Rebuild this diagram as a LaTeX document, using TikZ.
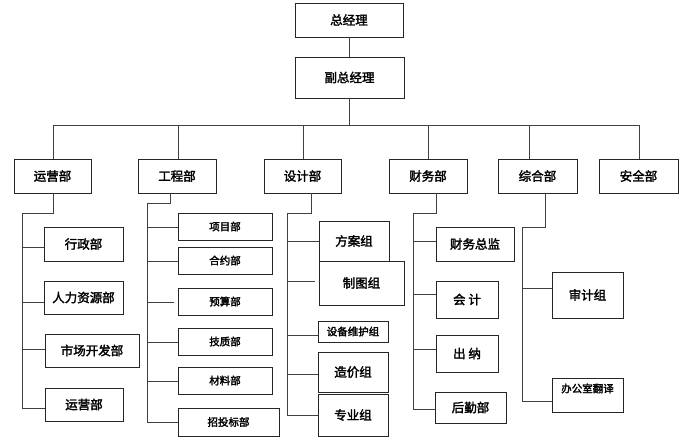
\documentclass[tikz,border=0pt]{standalone}
\usepackage{fontspec}
\newfontfamily\cjk{Noto Sans CJK SC}[FakeBold=2.2]
\tikzset{
  box/.style={draw=black!85, line width=0.9pt, inner sep=0pt, text=black,
    font=\cjk\fontsize{12.5}{14}\selectfont},
  sm/.style={font=\cjk\fontsize{10.5}{12}\selectfont},
  ln/.style={draw=black!75, line width=0.8pt},
}
\newcommand\bx[7][]{\node[box,#1,minimum width={(#4-#2)*1pt},minimum height={(#5-#3)*1pt}] (#6) at ({(#2+#4)/2},{(#3+#5)/2}) {#7};}
\begin{document}
\begin{tikzpicture}[x=1pt,y=-1pt]
\useasboundingbox[fill=white] (0,0) rectangle (700,446);
% top
\bx{295}{3}{403}{37}{zjl}{总经理}
\bx{295}{57}{404}{98}{fzjl}{副总经理}
% departments
\bx{14}{159}{91}{193}{d1}{运营部}
\bx{138}{159}{216}{193}{d2}{工程部}
\bx{264}{159}{341}{193}{d3}{设计部}
\bx{389}{159}{467}{193}{d4}{财务部}
\bx{498}{159}{577}{193}{d5}{综合部}
\bx{599}{159}{678}{193}{d6}{安全部}
% group 1
\bx{44}{227}{123}{261}{a1}{行政部}
\bx{44}{281}{123}{314}{a2}{人力资源部}
\bx{45}{334}{139}{367}{a3}{市场开发部}
\bx{45}{388}{123}{421}{a4}{运营部}
% group 2
\bx[sm]{178}{213}{272}{240}{b1}{项目部}
\bx[sm]{178}{247}{272}{274}{b2}{合约部}
\bx[sm]{178}{288}{272}{315}{b3}{预算部}
\bx[sm]{178}{328}{272}{355}{b4}{技质部}
\bx[sm]{178}{367}{272}{394}{b5}{材料部}
\bx[sm]{178}{408}{279}{436}{b6}{招投标部}
% group 3
\bx{319}{221}{389}{261}{c1}{方案组}
\bx{319}{261}{404}{305}{c2}{制图组}
\bx[sm]{318}{321}{388}{342}{c3}{设备维护组}
\bx{318}{352}{388}{392}{c4}{造价组}
\bx{318}{394}{388}{436}{c5}{专业组}
% group 4
\bx{436}{227}{514}{261}{e1}{财务总监}
\bx{436}{281}{498}{318}{e2}{会\ 计}
\bx{436}{335}{498}{372}{e3}{出\ 纳}
\bx{435}{392}{506}{423}{e4}{后勤部}
% group 5
\bx{552}{272}{623}{318}{f1}{审计组}
\bx[sm,text depth=14pt]{552}{378}{623}{412}{f2}{办公室翻译}

% top connectors
\coordinate (bus) at (349.5,125);
\draw[ln] (zjl.south -| bus) -- (fzjl.north -| bus);
\draw[ln] (fzjl.south -| bus) -- (bus);
\coordinate (p1) at (53,125);
\coordinate (p2) at (178,125);
\coordinate (p3) at (303,125);
\coordinate (p4) at (428,125);
\coordinate (p5) at (529,125);
\coordinate (p6) at (639,125);
\draw[ln] (d1.north -| p1) -- (p1) -- (p6) -- (d6.north -| p6);
\draw[ln] (p2) -- (d2.north -| p2);
\draw[ln] (p3) -- (d3.north -| p3);
\draw[ln] (p4) -- (d4.north -| p4);
\draw[ln] (p5) -- (d5.north -| p5);

% group 1 tree
\coordinate (t1) at (22,213); \coordinate (u1) at (22,408);
\draw[ln] (d1.south -| 53,0) -- (53,213) -- (t1) -- (u1);
\foreach \n/\y in {a1/247,a2/302,a3/349,a4/408}{
  \draw[ln] (22,\y) -- (\n.west |- 22,\y);
}
% group 2 tree
\coordinate (t2) at (147,203); \coordinate (u2) at (147,422);
\draw[ln] (d2.south -| 170,0) -- (170,203) -- (t2) -- (u2);
\foreach \n/\y in {b1/227,b2/261,b4/342,b5/381,b6/422}{
  \draw[ln] (147,\y) -- (\n.west |- 147,\y);
}
\coordinate (g2) at (174,302);
\draw[ln] (147,302) -- (g2);
% group 3 tree
\coordinate (t3) at (287,213); \coordinate (u3) at (287,415);
\draw[ln] (d3.south -| 311,0) -- (311,213) -- (t3) -- (u3);
\foreach \n/\y in {c1/241,c3/335,c4/374,c5/415}{
  \draw[ln] (287,\y) -- (\n.west |- 287,\y);
}
\coordinate (g3) at (315,281);
\draw[ln] (287,281) -- (g3);
% group 4 tree
\coordinate (t4) at (413,213); \coordinate (u4) at (413,409);
\draw[ln] (d4.south -| 436,0) -- (436,213) -- (t4) -- (u4);
\foreach \n/\y in {e1/241,e2/294,e3/349,e4/409}{
  \draw[ln] (413,\y) -- (\n.west |- 413,\y);
}
% group 5 tree
\coordinate (t5) at (522,227); \coordinate (u5) at (522,401);
\draw[ln] (d5.south -| 545,0) -- (545,227) -- (t5) -- (u5);
\foreach \n/\y in {f1/288,f2/401}{
  \draw[ln] (522,\y) -- (\n.west |- 522,\y);
}
\end{tikzpicture}
\end{document}
